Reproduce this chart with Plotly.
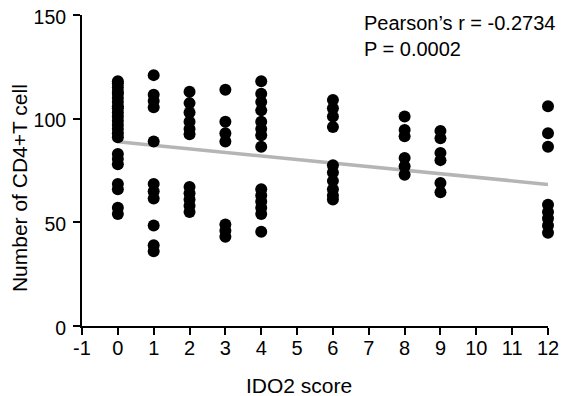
import plotly.graph_objects as go

# IDO2 score groups and CD4+ T cell counts
score_0 = [118, 117, 115, 113, 112, 110, 108, 106, 105, 103, 101, 99, 97, 95, 93, 91,
           83, 80.5, 78, 68.5, 66, 57, 54]
score_1 = [121, 111.5, 108.5, 105.5, 89, 68.5, 65, 61.5, 48.5, 39, 36]
score_2 = [113, 107.5, 103, 98.5, 95, 92.5, 67, 64, 61, 58, 55]
score_3 = [114, 98.5, 93, 89, 49, 46, 43]
score_4 = [118, 112, 108, 104, 98.5, 95, 92, 86.5, 66, 63, 60, 57, 54, 45.5]
score_6 = [109, 105, 101, 96, 77.5, 74, 70, 66, 63, 61]
score_8 = [101, 94.5, 91.5, 81, 77, 73]
score_9 = [94, 90.5, 83.5, 80, 69, 64.5]
score_12 = [106, 93, 86.5, 58.5, 55, 52, 48.5, 45]

groups = {0: score_0, 1: score_1, 2: score_2, 3: score_3, 4: score_4,
          6: score_6, 8: score_8, 9: score_9, 12: score_12}

fit_x = [0, 12]
fit_y = [88.9, 68.3]

x_ticks = list(range(-1, 13))
y_ticks = [0, 50, 100, 150]

x_title = "IDO2 score"
y_title = "Number of CD4+T cell"
stat_lines = ["Pearson’s r = -0.2734", "P = 0.0002"]

xs, ys = [], []
for k, vals in groups.items():
    xs += [k] * len(vals)
    ys += vals

FONT = "Liberation Sans, Arial, sans-serif"

fig = go.Figure()
fig.add_trace(go.Scatter(x=fit_x, y=fit_y, mode="lines",
                         line=dict(color="#b5b5b5", width=3.5),
                         showlegend=False, hoverinfo="skip"))
fig.add_trace(go.Scatter(x=xs, y=ys, mode="markers",
                         marker=dict(color="black", size=12, line=dict(width=0)),
                         cliponaxis=False, showlegend=False))

# the page body has an 8px margin on top/left, so the figure is 8px smaller
fig.update_layout(
    width=560, height=388,
    margin=dict(l=74, r=20, t=7, b=70, autoexpand=False),
    plot_bgcolor="white", paper_bgcolor="white",
    font=dict(family=FONT, size=20, color="black"),
    xaxis=dict(range=[-1, 12], tickvals=x_ticks, ticktext=[str(t) for t in x_ticks],
               showgrid=False, zeroline=False, showline=True, linecolor="black",
               linewidth=2, ticks="outside", ticklen=7, tickwidth=2, tickcolor="black",
               automargin=False, ticklabeloverflow="allow", ticklabelstandoff=-4),
    yaxis=dict(range=[0, 150], tickvals=y_ticks, ticktext=[str(t) for t in y_ticks],
               showgrid=False, zeroline=False, showline=True, linecolor="black",
               linewidth=2, ticks="outside", ticklen=7, tickwidth=2, tickcolor="black",
               automargin=False, ticklabeloverflow="allow", ticklabelstandoff=3,
               ticklabelshift=2, tickfont=dict(size=19.5)),
    annotations=[
        dict(text=stat_lines[0], x=0.60, y=0.973, xref="paper", yref="paper",
             xanchor="left", yanchor="middle", showarrow=False, font=dict(size=20)),
        dict(text=stat_lines[1], x=0.60, y=0.891, xref="paper", yref="paper",
             xanchor="left", yanchor="middle", showarrow=False, font=dict(size=20)),
        dict(text=x_title, x=0.4646, y=-0.19, xref="paper", yref="paper",
             xanchor="center", yanchor="middle", showarrow=False, font=dict(size=21)),
        dict(text=y_title, x=-0.134, y=0.442, xref="paper", yref="paper", textangle=-90,
             xanchor="center", yanchor="middle", showarrow=False, font=dict(size=21)),
    ],
)

fig.write_html("out.html")
